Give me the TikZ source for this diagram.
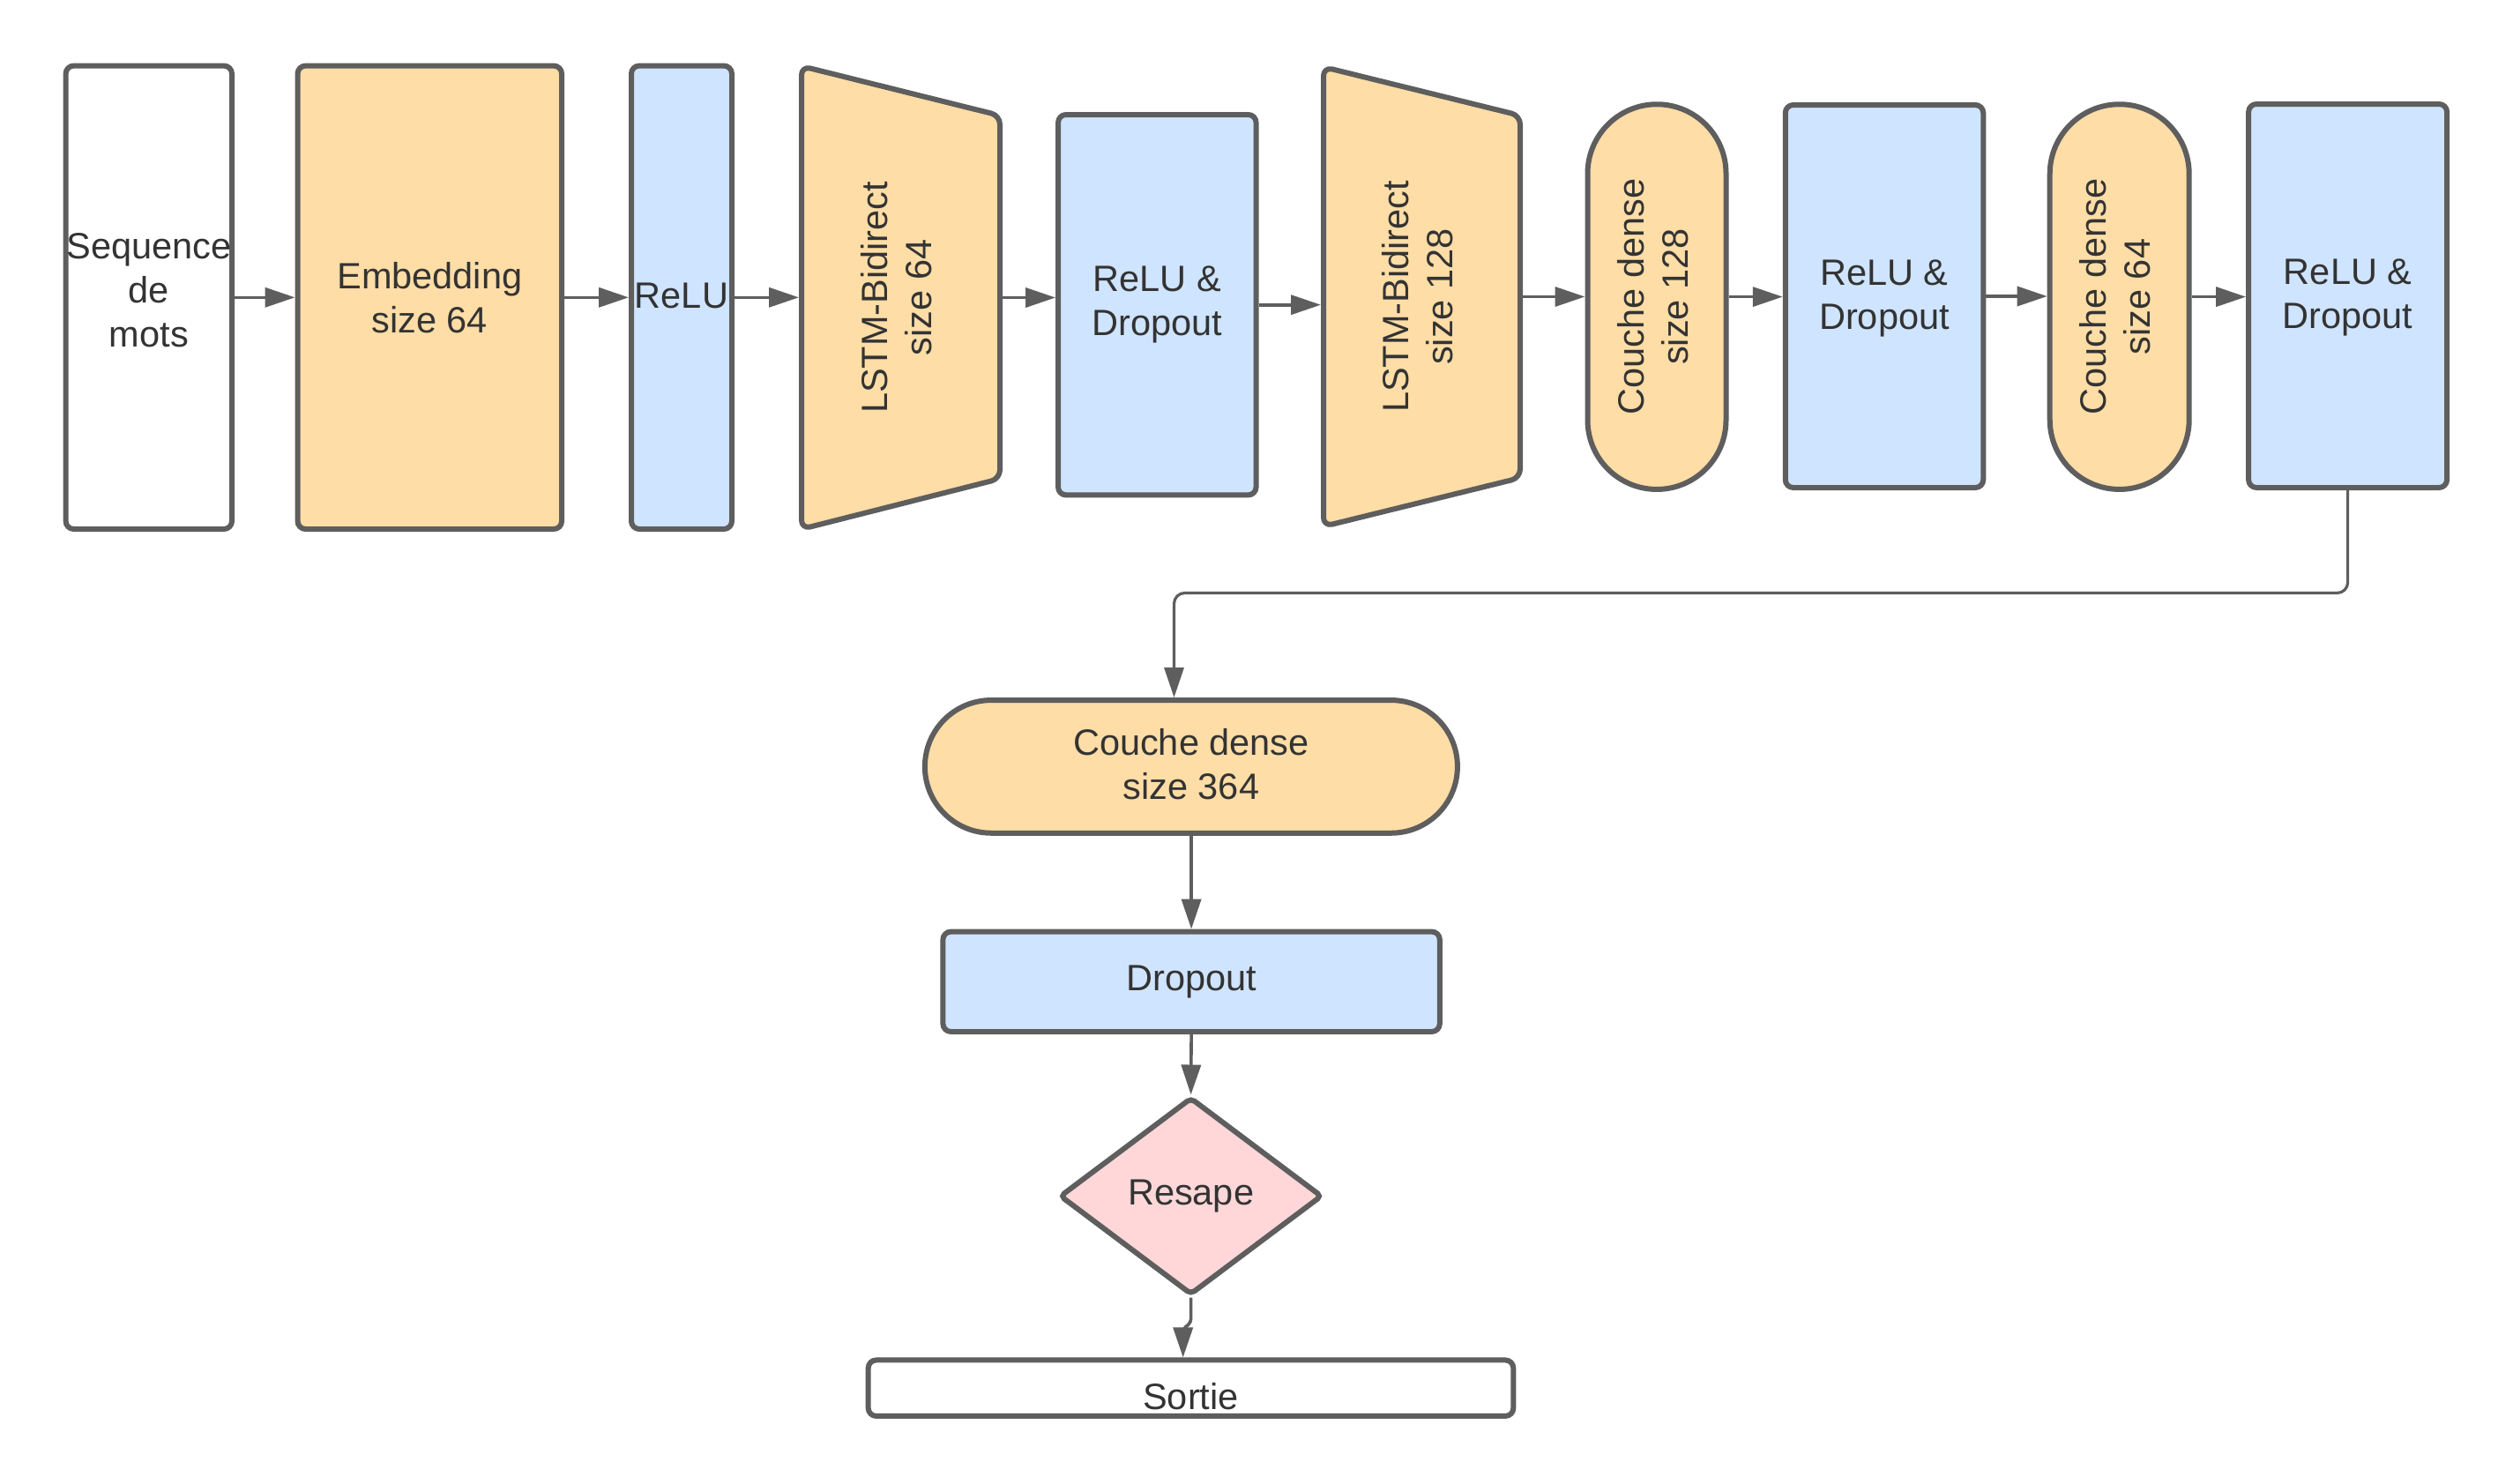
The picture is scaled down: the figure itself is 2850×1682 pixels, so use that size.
\documentclass[tikz,border=0pt]{standalone}
\usepackage{fontspec}
\setmainfont{Liberation Sans}
\usepackage{graphicx}
\usetikzlibrary{arrows.meta,shapes.geometric}
\definecolor{edgec}{HTML}{5E5E5E}
\definecolor{txtc}{HTML}{333333}
\definecolor{orangefill}{HTML}{FFDDA6}
\definecolor{bluefill}{HTML}{CFE4FF}
\definecolor{pinkfill}{HTML}{FFD7D9}
\newcommand{\rottext}[2]{\rotatebox{90}{\begin{tabular}{@{}c@{}}#1\\#2\end{tabular}}}
\begin{document}
\begin{tikzpicture}[x=1pt,y=-1pt,
  every node/.style={text=txtc, font=\fontsize{41.5}{50}\selectfont, inner sep=0pt, outer sep=3pt},
  box/.style={draw=edgec, line width=6pt, rounded corners=9pt, align=center, rectangle},
  ghost/.style={draw=none, rectangle},
  trap/.style={draw=edgec, fill=orangefill, line width=6pt, rounded corners=10pt, line join=round},
  conn/.style={draw=edgec, line width=3.6pt, -{Triangle[length=34pt,width=22pt]}},
]
\useasboundingbox (0,0) rectangle (2850,1682);

% top row
\node[box, fill=white, minimum width=188.4pt, minimum height=525.4pt, text depth=16pt] (seq) at (168.8,337.3) {Sequence\\de\\mots};
\node[box, fill=orangefill, minimum width=299.5pt, minimum height=525.4pt] (emb) at (487.3,337.3) {Embedding\\size 64};
\node[box, fill=bluefill, minimum width=114pt, minimum height=525.4pt, text depth=4pt] (relu) at (773,337.3) {ReLU};

\draw[trap] (909,75) -- (1134,131) -- (1134,543) -- (909,600) -- cycle;
\node[ghost, minimum width=225pt, minimum height=525pt] (lstmA) at (1021.5,337.5) {\rottext{LSTM-Bidirect}{size 64}};

\node[box, fill=bluefill, minimum width=224.5pt, minimum height=431.4pt] (rdA) at (1312.3,345.7) {ReLU \&\\Dropout};

\draw[trap] (1501,76) -- (1724,131) -- (1724,542) -- (1501,597) -- cycle;
\node[ghost, minimum width=223pt, minimum height=521pt] (lstmB) at (1612.5,336.5) {\rottext{LSTM-Bidirect}{size 128}};

\node[box, fill=orangefill, rounded corners=78.5pt, minimum width=157pt, minimum height=436.7pt] (cdA) at (1879,336.6) {\rottext{Couche dense}{size 128}};
\node[box, fill=bluefill, minimum width=224.5pt, minimum height=434pt, text depth=4pt] (rdB) at (2137,336) {ReLU \&\\Dropout};
\node[box, fill=orangefill, rounded corners=79pt, minimum width=158pt, minimum height=436.7pt] (cdB) at (2403.7,336.6) {\rottext{Couche dense}{size 64}};
\node[box, fill=bluefill, minimum width=225pt, minimum height=435pt, text depth=4pt] (rdC) at (2662.6,335.5) {ReLU \&\\Dropout};

% bottom column
\node[box, fill=orangefill, rounded corners=75.3pt, minimum width=604pt, minimum height=150.7pt, text depth=5pt] (cdC) at (1350.9,869.4) {Couche dense\\size 364};
\node[box, fill=bluefill, minimum width=563.4pt, minimum height=113.4pt] (drop) at (1351.1,1113.3) {Dropout};
\node[draw=edgec, fill=pinkfill, line width=6pt, shape=diamond, rounded corners=5pt, minimum width=298pt, minimum height=224pt] (res) at (1350.6,1356.5) {Resape};
\node[box, fill=white, minimum width=731.6pt, minimum height=63.5pt] (sortie) at (1350.5,1574.2) {};
\node[anchor=base, outer sep=0pt] (sortielbl) at (1350.5,1598) {Sortie};

% connectors top row
\draw[conn] (seq.east) -- (seq.east -| emb.west);
\draw[conn] (emb.east) -- (emb.east -| relu.west);
\draw[conn] (relu.east) -- (relu.east -| lstmA.west);
\draw[conn] (lstmA.east) -- (lstmA.east -| rdA.west);
\draw[conn] (rdA.east) -- (rdA.east -| lstmB.west);
\draw[conn] (lstmB.east) -- (lstmB.east -| cdA.west);
\draw[conn] (cdA.east) -- (cdA.east -| rdB.west);
\draw[conn] (rdB.east) -- (rdB.east -| cdB.west);
\draw[conn] (cdB.east) -- (cdB.east -| rdC.west);

% connector to bottom
\coordinate (turn) at (1331.5,672.5);
\draw[conn, line width=3.2pt, rounded corners=12pt] (rdC.south) |- (turn) -- (turn |- cdC.north);

\draw[conn] (cdC.south -| drop.north) -- (drop.north);
\draw[conn] (drop.south) -- (res.north);
\coordinate (jogA) at (1350.6,1500);
\coordinate (jogB) at (1341.7,1507);
\draw[conn, rounded corners=4pt] (res.south) -- (jogA) -- (jogB) -- (jogB |- sortie.north);
\end{tikzpicture}
\end{document}
